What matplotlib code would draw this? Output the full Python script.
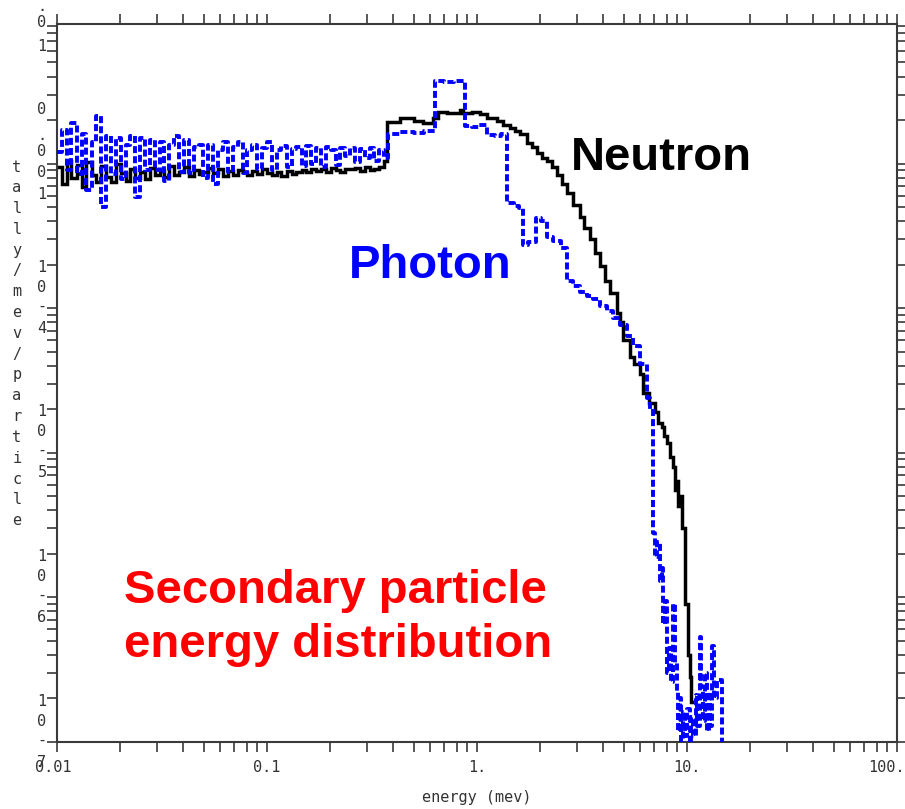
import matplotlib
matplotlib.use("Agg")
import matplotlib.pyplot as plt
import matplotlib.transforms as mtransforms
from matplotlib.ticker import LogLocator, NullFormatter

# ---------------- data ----------------
# low-energy bins (MeV), shared by both tallies
low_energy = [0.0100, 0.0106, 0.0111, 0.0117, 0.0124, 0.0131, 0.0138, 0.0146, 0.0154, 0.0162,
              0.0171, 0.0180, 0.0190, 0.0201, 0.0212, 0.0223, 0.0236, 0.0249, 0.0262, 0.0277,
              0.0292, 0.0308, 0.0325, 0.0343, 0.0362, 0.0381, 0.0402, 0.0425, 0.0448, 0.0473,
              0.0498, 0.0526, 0.0555, 0.0585, 0.0618, 0.0651, 0.0687, 0.0725, 0.0765, 0.0807,
              0.0851, 0.0898, 0.0948, 0.100, 0.106, 0.111, 0.117, 0.124, 0.131, 0.138,
              0.146, 0.154, 0.162, 0.171, 0.180, 0.190, 0.201, 0.212, 0.223, 0.236,
              0.249, 0.262, 0.277, 0.292, 0.308, 0.325, 0.343, 0.362]

# tally values in the low-energy bins (units of 1e-4 /MeV/particle)
neutron_low = [9.5, 7.2, 10.5, 8.0, 9.8, 6.9, 10.2, 8.4, 7.5, 9.6,
               8.1, 7.4, 9.9, 8.6, 7.6, 9.2, 8.0, 8.8, 7.8, 9.3,
               8.4, 8.9, 8.1, 9.6, 8.3, 8.7, 9.4, 8.2, 9.0, 8.5,
               8.8, 9.3, 8.6, 9.1, 8.2, 8.9, 8.4, 9.0, 8.7, 8.3,
               8.9, 8.5, 9.1, 8.6, 8.4, 8.8, 8.2, 8.9, 8.5, 8.7,
               9.0, 8.8, 9.2, 8.9, 9.1, 8.7, 9.3, 9.0, 8.8, 9.2,
               9.1, 9.3, 8.9, 9.4, 9.0, 9.2, 9.5, 10.5]

photon_low = [12.0, 17.0, 9.0, 19.0, 8.5, 16.0, 6.6, 14.0, 21.5, 5.0,
              15.5, 8.5, 15.0, 7.8, 13.5, 15.5, 5.9, 15.0, 9.0, 14.5,
              9.0, 14.0, 7.6, 13.5, 15.5, 8.8, 14.5, 8.6, 13.0, 13.5,
              8.0, 13.5, 7.2, 12.5, 14.0, 8.8, 13.0, 14.0, 8.6, 12.5,
              13.5, 9.2, 12.8, 14.0, 9.0, 12.5, 13.2, 9.4, 12.6, 13.0,
              9.6, 13.3, 10.0, 12.8, 9.5, 13.1, 12.4, 9.8, 12.8, 11.3,
              12.8, 10.2, 12.6, 11.0, 12.8, 10.4, 12.4, 11.0]

neutron_high_e = [0.372, 0.430, 0.500, 0.553, 0.617, 0.651, 0.720, 0.830, 0.857, 0.950,
                  1.03, 1.116, 1.25, 1.33, 1.436, 1.52, 1.603, 1.73, 1.83, 1.931,
                  2.05, 2.154, 2.28, 2.404, 2.55, 2.683, 2.88, 3.093, 3.25, 3.451,
                  3.65, 3.852, 4.05, 4.30, 4.64, 4.80, 4.96, 5.35, 5.60, 5.97,
                  6.17, 6.60, 7.04, 7.30, 7.60, 7.80, 8.04, 8.30, 8.58, 8.80,
                  8.96, 9.10, 9.25, 9.46, 9.78, 10.1, 10.3, 10.45, 10.6]
neutron_high_v = [1.95e-3, 2.05e-3, 1.98e-3, 1.92e-3, 2.08e-3, 2.27e-3, 2.24e-3, 2.33e-3, 2.22e-3, 2.26e-3,
                  2.20e-3, 2.05e-3, 1.96e-3, 1.85e-3, 1.76e-3, 1.68e-3, 1.60e-3, 1.39e-3, 1.30e-3, 1.18e-3,
                  1.10e-3, 1.04e-3, 9.4e-4, 8.3e-4, 7.2e-4, 6.3e-4, 5.2e-4, 4.3e-4, 3.6e-4, 3.0e-4,
                  2.4e-4, 1.95e-4, 1.55e-4, 1.27e-4, 9.3e-5, 8.0e-5, 6.0e-5, 4.6e-5, 4.1e-5, 3.5e-5,
                  2.6e-5, 2.2e-5, 1.9e-5, 1.6e-5, 1.5e-5, 1.3e-5, 1.17e-5, 9.3e-6, 8.0e-6, 5.5e-6,
                  6.4e-6, 4.3e-6, 5.0e-6, 3.0e-6, 9.0e-7, 4.0e-7, 2.8e-7, 1.9e-7, 1.9e-7]

photon_high_e = [0.377, 0.430, 0.500, 0.560, 0.631, 0.700, 0.780, 0.877, 0.950, 1.02,
                 1.116, 1.22, 1.30, 1.39, 1.50, 1.58, 1.66, 1.75, 1.90, 2.02,
                 2.15, 2.30, 2.50, 2.68, 2.87, 3.09, 3.35, 3.57, 3.85, 4.16,
                 4.44, 4.80, 5.18, 5.53, 5.97, 6.45, 6.70, 6.89, 7.05, 7.19,
                 7.43, 7.60, 7.68, 7.85, 8.03, 8.20, 8.40, 8.58, 8.80, 8.96,
                 9.10, 9.26, 9.40, 9.57, 9.78, 10.0, 10.3, 10.5, 10.7, 11.0,
                 11.2, 11.5, 11.7, 11.9, 12.2, 12.4, 12.7, 12.9, 13.1, 13.5,
                 13.9, 14.6, 14.7]
photon_high_v = [1.60e-3, 1.66e-3, 1.62e-3, 1.68e-3, 3.75e-3, 3.65e-3, 3.72e-3, 1.82e-3, 1.78e-3, 1.84e-3,
                 1.58e-3, 1.55e-3, 1.60e-3, 5.34e-4, 5.1e-4, 4.9e-4, 2.74e-4, 2.85e-4, 4.2e-4, 4.0e-4,
                 3.1e-4, 2.9e-4, 2.6e-4, 1.55e-4, 1.42e-4, 1.30e-4, 1.22e-4, 1.15e-4, 1.04e-4, 9.6e-5,
                 8.6e-5, 7.6e-5, 6.4e-5, 5.5e-5, 4.1e-5, 2.4e-5, 2.0e-5, 2.8e-6, 1.9e-6, 2.4e-6,
                 1.3e-6, 1.6e-6, 6.5e-7, 9.5e-7, 3.0e-7, 4.5e-7, 2.6e-7, 9.0e-7, 3.5e-7, 2.2e-7,
                 1.2e-7, 2.0e-7, 8.0e-8, 1.6e-7, 1.1e-7, 1.7e-7, 9.0e-8, 1.5e-7, 1.1e-7, 2.1e-7,
                 1.3e-7, 5.3e-7, 2.4e-7, 1.4e-7, 3.0e-7, 1.2e-7, 2.2e-7, 1.3e-7, 4.6e-7, 2.0e-7,
                 2.7e-7, 5.0e-8, 5.0e-8]

x_ticks = [0.01, 0.1, 1, 10, 100]
x_tick_labels = ["0.01", "0.1", "1.", "10.", "100."]
y_decades = [1e-7, 1e-6, 1e-5, 1e-4]
y_decade_labels = ["7", "6", "5", "4"]
x_label = "energy (mev)"
y_label = "tally/mev/particle"

neutron_e = low_energy + neutron_high_e
neutron_v = [v * 1e-4 for v in neutron_low] + neutron_high_v
photon_e = low_energy + photon_high_e
photon_v = [v * 1e-4 for v in photon_low] + photon_high_v

# ---------------- figure ----------------
W, H = 905, 809
fig = plt.figure(figsize=(W / 100, H / 100), dpi=100)
ax = fig.add_axes([57 / W, 67 / H, 840 / W, 718 / H])
ax.set_xscale("log")
ax.set_yscale("log")
ax.set_xlim(0.01, 100)
ax.set_ylim(1e-7, 9.23e-3)

ax.step(neutron_e, neutron_v, where="post", color="black", lw=2.5, zorder=2,
        solid_joinstyle="miter")
ax.step(photon_e, photon_v, where="post", color="#0000ff", lw=2.8, zorder=3,
        linestyle=(0, (1.8, 0.8)))

frame_col = "#3a3a3a"
for s in ax.spines.values():
    s.set_color(frame_col)
    s.set_linewidth(1.5)

ax.xaxis.set_major_locator(LogLocator(base=10, numticks=20))
ax.xaxis.set_minor_locator(LogLocator(base=10, subs=range(2, 10), numticks=20))
ax.yaxis.set_major_locator(LogLocator(base=10, numticks=20))
ax.yaxis.set_minor_locator(LogLocator(base=10, subs=range(2, 10), numticks=20))
ax.tick_params(which="both", direction="out", length=7, width=1.2, color=frame_col,
               top=True, right=True)
ax.set_xticks(x_ticks)
ax.set_xticklabels(x_tick_labels, fontfamily="DejaVu Sans Mono", fontsize=11, color="#333333")
ax.tick_params(axis="x", which="major", pad=6)
ax.xaxis.set_minor_formatter(NullFormatter())
ax.yaxis.set_major_formatter(NullFormatter())
ax.yaxis.set_minor_formatter(NullFormatter())
ax.set_xlabel(x_label, fontfamily="DejaVu Sans Mono", fontsize=11, color="#333333", labelpad=11)

# shift edge labels slightly, as in the original plot
xt = ax.get_xticklabels()
xt[0].set_transform(xt[0].get_transform() +
                    mtransforms.ScaledTranslation(-4 / 100, 0, fig.dpi_scale_trans))
xt[-1].set_transform(xt[-1].get_transform() +
                     mtransforms.ScaledTranslation(-11 / 100, 0, fig.dpi_scale_trans))

# stacked y tick labels (MCNP style)
mono = dict(fontfamily="DejaVu Sans Mono", fontsize=11, color="#333333",
            ha="center", va="center", clip_on=False)
base = mtransforms.blended_transform_factory(fig.transFigure, ax.transData)
xlab = 42 / W


def put(ch, yval, off_px):
    tr = mtransforms.offset_copy(base, fig=fig, x=0, y=-off_px, units="dots")
    ax.text(xlab, yval, ch, transform=tr, **mono)


for yv, lab in zip(y_decades, y_decade_labels):
    for ch, off in zip(["1", "0", "-", lab], [-41, -21, -2, 20]):
        put(ch, yv, off)
for ch, off in zip(["0", ".", "0", "0", "1"], [-54, -28, -12, 9, 31]):
    put(ch, 1e-3, off)
for ch, off in zip([".", "0", "1"], [-12, 4, 28]):
    put(ch, 1e-2, off)

# vertical stacked axis label
for i, ch in enumerate(y_label):
    fig.text(17 / W, 1 - (167 + i * 20.8) / H, ch, fontfamily="DejaVu Sans Mono",
             fontsize=11, color="#333333", ha="center", va="center")

# annotations
ann = dict(fontfamily="Liberation Sans", fontweight="bold", fontsize=34, transform=ax.transAxes)
ax.text(0.612, 0.797, "Neutron", color="black", ha="left", va="baseline", **ann)
ax.text(0.347, 0.646, "Photon", color="#0000ff", ha="left", va="baseline", **ann)
ax.text(0.332, 0.1936, "Secondary particle", color="#ff0000", ha="center", va="baseline", **ann)
ax.text(0.335, 0.1184, "energy distribution", color="#ff0000", ha="center", va="baseline", **ann)

fig.savefig("out.png", dpi=100)
